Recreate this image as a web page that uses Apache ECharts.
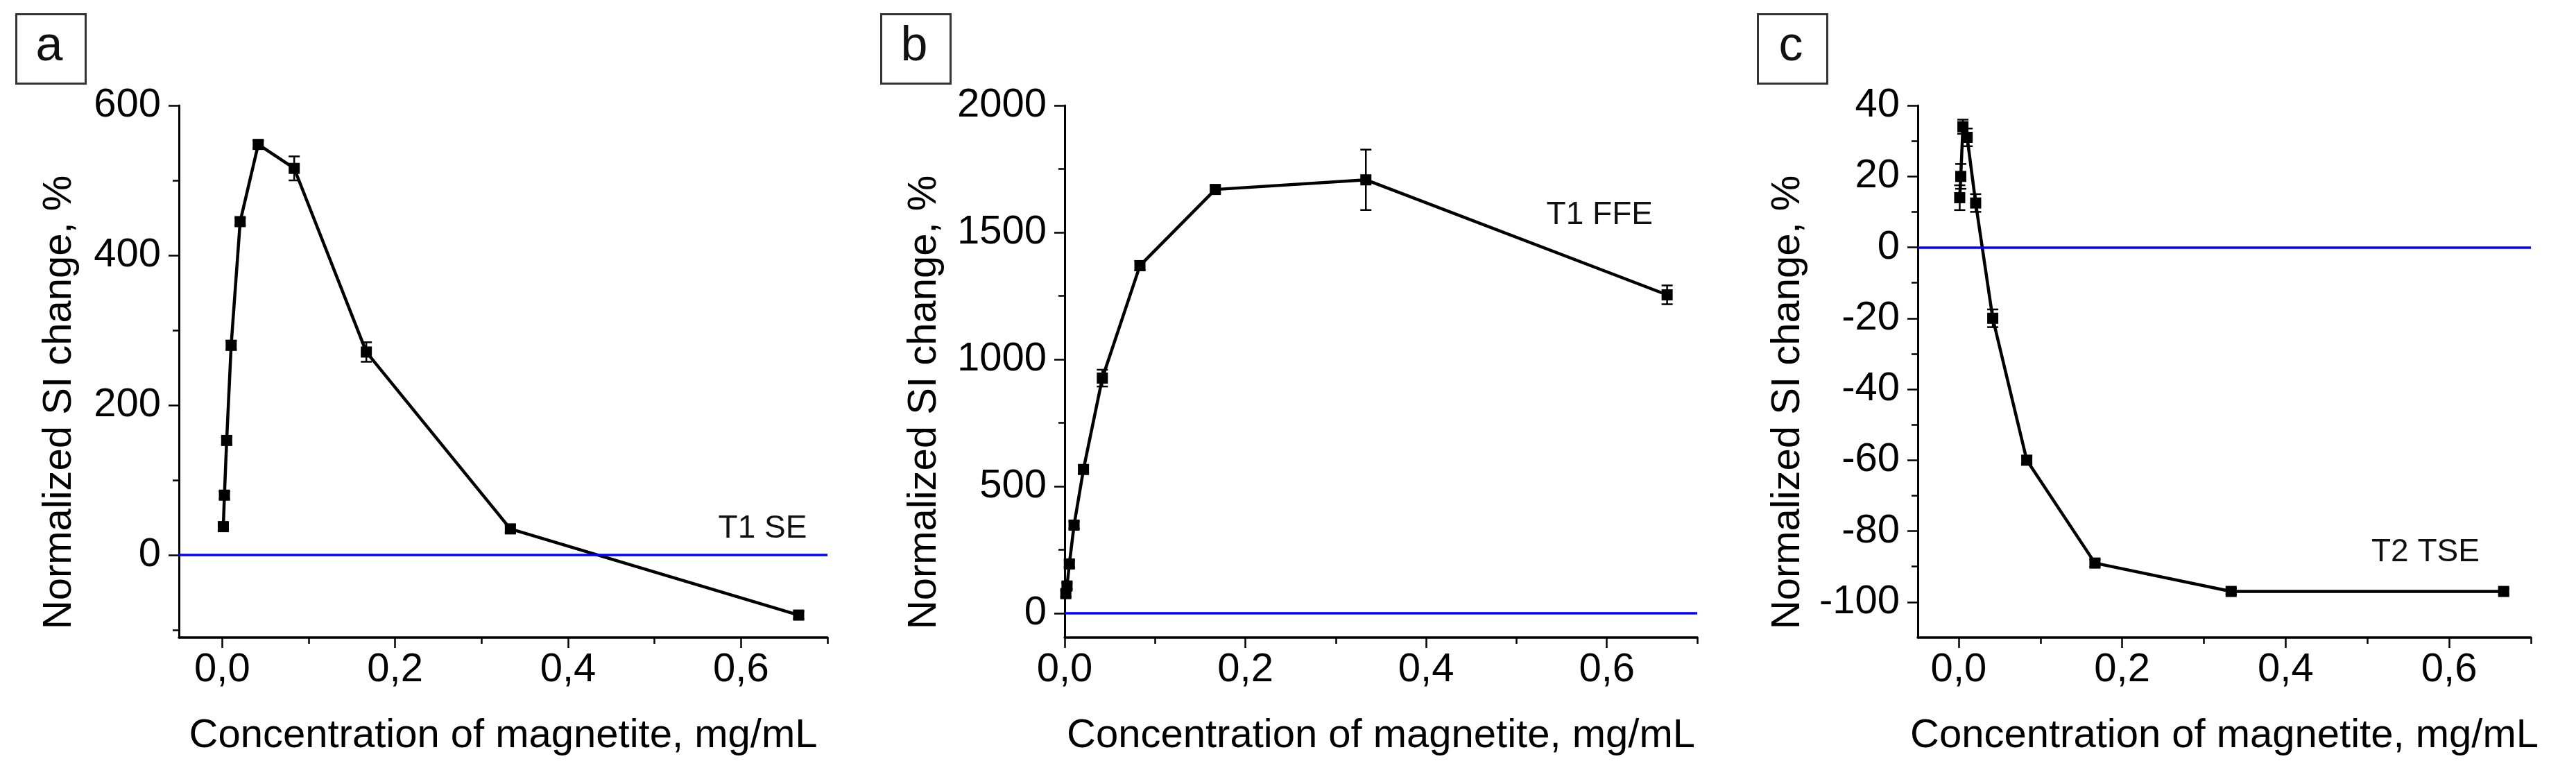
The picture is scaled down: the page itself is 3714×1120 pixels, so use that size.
<!DOCTYPE html>
<html>
<head>
<meta charset="UTF-8">
<title>Normalized SI change vs magnetite concentration</title>
<script src="https://cdn.jsdelivr.net/npm/echarts@6/dist/echarts.min.js"></script>
<style>
  html, body { margin: 0; padding: 0; background: #fff; }
  #main { width: 3714px; height: 1120px; }
</style>
</head>
<body>
<div id="main"></div>
<script>
// concentrations, mg/mL (same dilution series in all three panels)
var conc = [0.0013, 0.0026, 0.0052, 0.0104, 0.0208, 0.0417, 0.0833, 0.1667, 0.3333, 0.6667];

// a: T1 SE
var valA = [38, 80, 153, 280, 445, 548, 516, 271, 35, -80];
var errA = [4, 5, 5, 6, 5, 5, 16, 13, 5, 5];
// b: T1 FFE
var valB = [77, 107, 194, 347, 566, 926, 1369, 1669, 1707, 1254];
var errB = [12, 12, 14, 14, 15, 33, 18, 14, 119, 37];
// c: T2 TSE
var valC = [14, 20, 34, 31, 12.5, -20, -60, -89, -97, -97];
var errC = [3.5, 3.5, 2, 2.5, 2.5, 2.5, 1.2, 1, 0.8, 0.8];

// tick values
var xMajor = [0, 0.2, 0.4, 0.6];
var xMinor = [0.1, 0.3, 0.5, 0.7];
var yMajorA = [0, 200, 400, 600];
var yMinorA = [-100, 100, 300, 500];
var yMajorB = [0, 500, 1000, 1500, 2000];
var yMinorB = [250, 750, 1250, 1750];
var yMajorC = [-100, -80, -60, -40, -20, 0, 20, 40];
var yMinorC = [-90, -70, -50, -30, -10, 10, 30];

var letters = ['a', 'b', 'c'];
var seqNames = ['T1 SE', 'T1 FFE', 'T2 TSE'];
var xTitle = 'Concentration of magnetite, mg/mL';
var yTitle = 'Normalized SI change, %';

// layout (pixels) and axis ranges
var panels = [
  { left: 258, width: 935, xMin: -0.05, xMax: 0.7, yMin: -110, yMax: 600, titleGap: 172,
    vals: valA, errs: errA, yMajor: yMajorA, yMinor: yMinorA, box: 21, note: [0.625, 35] },
  { left: 1535, width: 912, xMin: 0, xMax: 0.7, yMin: -96, yMax: 2000, titleGap: 202,
    vals: valB, errs: errB, yMajor: yMajorB, yMinor: yMinorB, box: 1268, note: [0.592, 1568] },
  { left: 2765, width: 884, xMin: -0.05, xMax: 0.7, yMin: -110, yMax: 40, titleGap: 187,
    vals: valC, errs: errC, yMajor: yMajorC, yMinor: yMinorC, box: 2532, note: [0.571, -86] }
];
var gridTop = 152, gridHeight = 767;
var FONT = "'Liberation Sans', Arial, sans-serif";

var chart = echarts.init(document.getElementById('main'));

function errorBar(params, api) {
  var x = api.value(0);
  var top = api.coord([x, api.value(2)]);
  var bot = api.coord([x, api.value(1)]);
  var hw = 8;
  var st = { stroke: '#000', lineWidth: 2.5 };
  return {
    type: 'group',
    children: [
      { type: 'line', shape: { x1: top[0], y1: top[1], x2: bot[0], y2: bot[1] }, style: st },
      { type: 'line', shape: { x1: top[0] - hw, y1: top[1], x2: top[0] + hw, y2: top[1] }, style: st },
      { type: 'line', shape: { x1: bot[0] - hw, y1: bot[1], x2: bot[0] + hw, y2: bot[1] }, style: st }
    ]
  };
}

var grids = [], xAxes = [], yAxes = [], series = [];

panels.forEach(function (p, i) {
  grids.push({ left: p.left, top: gridTop, width: p.width, height: gridHeight,
               containLabel: false, outerBoundsMode: 'none' });

  // main x axis (line, major ticks, labels, title)
  xAxes.push({
    type: 'value', gridIndex: i, position: 'bottom', min: p.xMin, max: p.xMax,
    name: xTitle, nameLocation: 'middle', nameGap: 113,
    nameTextStyle: { fontFamily: FONT, fontSize: 58, color: '#000' },
    axisLine: { onZero: false, lineStyle: { color: '#000', width: 3.5 } },
    axisTick: { length: 15, customValues: xMajor, lineStyle: { color: '#000', width: 2.5 } },
    axisLabel: { customValues: xMajor, margin: 18, fontFamily: FONT, fontSize: 58, color: '#000',
                 formatter: function (v) { return v.toFixed(1).replace('.', ','); } },
    splitLine: { show: false }
  });
  // minor x ticks
  xAxes.push({
    type: 'value', gridIndex: i, position: 'bottom', min: p.xMin, max: p.xMax,
    axisLine: { show: false, onZero: false },
    axisTick: { length: 9, customValues: xMinor, lineStyle: { color: '#000', width: 2.5 } },
    axisLabel: { show: false },
    splitLine: { show: false }
  });

  yAxes.push({
    type: 'value', gridIndex: i, position: 'left', min: p.yMin, max: p.yMax,
    axisLine: { show: true, onZero: false, lineStyle: { color: '#000', width: 3 } },
    axisTick: { show: true, length: 15, customValues: p.yMajor, lineStyle: { color: '#000', width: 2.5 } },
    axisLabel: { customValues: p.yMajor, margin: 26, fontFamily: FONT, fontSize: 58, color: '#000',
                 formatter: function (v) { return String(v); } },
    splitLine: { show: false }
  });
  yAxes.push({
    type: 'value', gridIndex: i, position: 'left', min: p.yMin, max: p.yMax,
    axisLine: { show: false, onZero: false },
    axisTick: { show: true, length: 9, customValues: p.yMinor, lineStyle: { color: '#000', width: 2.5 } },
    axisLabel: { show: false },
    splitLine: { show: false }
  });

  var xi = i * 2, yi = i * 2;

  // blue zero reference line
  series.push({
    type: 'line', xAxisIndex: xi, yAxisIndex: yi, data: [], z: 1,
    markLine: {
      silent: true, symbol: 'none', animation: false,
      label: { show: false },
      lineStyle: { color: '#0000ff', width: 3.5, type: 'solid' },
      data: [{ yAxis: 0 }]
    }
  });

  series.push({
    type: 'custom', xAxisIndex: xi, yAxisIndex: yi, z: 3,
    renderItem: errorBar,
    encode: { x: 0, y: [1, 2] },
    data: conc.map(function (c, k) { return [c, p.vals[k] - p.errs[k], p.vals[k] + p.errs[k]]; })
  });

  series.push({
    type: 'line', xAxisIndex: xi, yAxisIndex: yi, z: 4,
    data: conc.map(function (c, k) { return [c, p.vals[k]]; }),
    symbol: 'rect', symbolSize: 16, showSymbol: true,
    lineStyle: { color: '#000', width: 4.5 },
    itemStyle: { color: '#000' }
  });
});

chart.setOption({
  animation: false,
  backgroundColor: '#fff',
  grid: grids,
  xAxis: xAxes,
  yAxis: yAxes,
  series: series
});

// panel letters, y titles and sequence notes
var graphics = [];
panels.forEach(function (p, i) {
  graphics.push({
    type: 'rect', left: p.box, top: 18,
    shape: { width: 100, height: 100 },
    style: { fill: 'none', stroke: '#333', lineWidth: 3 }
  });
  graphics.push({
    type: 'text', x: p.box + 50, y: 68,
    style: { text: letters[i], font: '70px ' + FONT, fill: '#111',
             textAlign: 'center', textVerticalAlign: 'middle' }
  });
  graphics.push({
    type: 'text', x: p.left - p.titleGap, y: 580, rotation: Math.PI / 2,
    style: { text: yTitle, font: '58px ' + FONT, fill: '#000',
             textAlign: 'center', textVerticalAlign: 'middle' }
  });
  var pt = chart.convertToPixel({ xAxisIndex: i * 2, yAxisIndex: i * 2 }, p.note);
  graphics.push({
    type: 'text', x: pt[0], y: pt[1],
    style: { text: seqNames[i], font: '46px ' + FONT, fill: '#111',
             textAlign: 'center', textVerticalAlign: 'middle' }
  });
});
chart.setOption({ graphic: graphics });
</script>
</body>
</html>
